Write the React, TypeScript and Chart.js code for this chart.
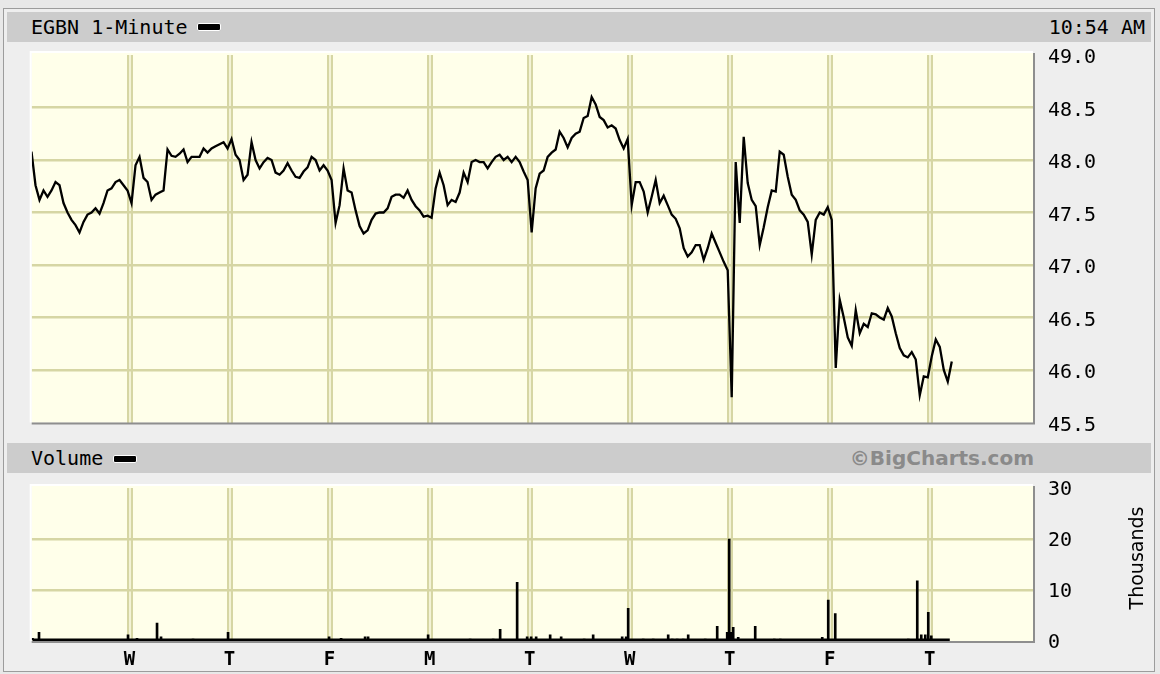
import React, { useEffect, useRef } from "react";
import { Chart, registerables } from "chart.js";

Chart.register(...registerables);

// ---------- data ----------
const dayLabels = ["W", "T", "F", "M", "T", "W", "T", "F", "T"];
const dayTicks = [1, 2, 3, 4, 5, 6, 7, 8, 9];
const priceTicks = [45.5, 46.0, 46.5, 47.0, 47.5, 48.0, 48.5, 49.0];
const volumeTicks = [0, 10, 20, 30];

// price samples per trading session, one sample every 0.04 of a session
const SAMPLE_STEP = 0.04;
const day0 = [48.08, 47.76, 47.62, 47.71, 47.65, 47.71, 47.79, 47.76, 47.59, 47.5, 47.43, 47.38, 47.31, 47.41, 47.48, 47.5, 47.54, 47.49, 47.59, 47.71, 47.73, 47.79, 47.81, 47.76, 47.71];
const day1 = [47.59, 47.95, 48.03, 47.83, 47.79, 47.62, 47.67, 47.69, 47.71, 48.1, 48.04, 48.03, 48.06, 48.1, 47.98, 48.03, 48.03, 48.03, 48.11, 48.07, 48.11, 48.13, 48.15, 48.17, 48.11];
const day2 = [48.2, 48.05, 48.0, 47.81, 47.86, 48.17, 48.0, 47.92, 47.98, 48.02, 48.0, 47.88, 47.86, 47.9, 47.97, 47.9, 47.84, 47.83, 47.89, 47.93, 48.03, 48.0, 47.9, 47.95, 47.9];
const day3 = [47.81, 47.4, 47.57, 47.92, 47.71, 47.69, 47.52, 47.37, 47.3, 47.33, 47.43, 47.49, 47.5, 47.5, 47.54, 47.65, 47.67, 47.67, 47.64, 47.71, 47.62, 47.56, 47.52, 47.46, 47.47];
const day4 = [47.45, 47.73, 47.88, 47.76, 47.57, 47.62, 47.6, 47.69, 47.88, 47.79, 47.98, 48.0, 47.98, 47.98, 47.92, 47.98, 48.03, 48.05, 48.0, 48.03, 47.98, 48.03, 47.98, 47.89, 47.81];
const day5 = [47.31, 47.73, 47.87, 47.9, 48.03, 48.07, 48.1, 48.27, 48.21, 48.12, 48.21, 48.25, 48.27, 48.4, 48.42, 48.6, 48.53, 48.41, 48.38, 48.31, 48.33, 48.3, 48.19, 48.11, 48.2];
const day6 = [47.57, 47.79, 47.79, 47.7, 47.5, 47.65, 47.81, 47.59, 47.66, 47.57, 47.48, 47.44, 47.35, 47.16, 47.08, 47.12, 47.19, 47.19, 47.05, 47.16, 47.3, 47.21, 47.12, 47.03, 46.95];
const day7 = [45.74, 47.98, 47.4, 48.22, 47.78, 47.62, 47.56, 47.19, 47.36, 47.55, 47.71, 47.7, 48.08, 48.05, 47.84, 47.67, 47.62, 47.52, 47.48, 47.41, 47.1, 47.43, 47.5, 47.48, 47.55];
const day8 = [47.43, 46.02, 46.67, 46.5, 46.31, 46.23, 46.57, 46.35, 46.44, 46.41, 46.54, 46.53, 46.5, 46.48, 46.59, 46.51, 46.35, 46.21, 46.14, 46.12, 46.17, 46.1, 45.76, 45.94, 45.93];
const day9 = [46.13, 46.29, 46.22, 46.0, 45.89, 46.08];
const sessions = [day0, day1, day2, day3, day4, day5, day6, day7, day8, day9];

// volume (thousands) at session positions
const volDay = [0.03, 0.095, 0.205, 0.985, 1.075, 1.275, 1.315, 1.635, 1.985, 2.995, 3.115, 3.355, 3.385, 3.985, 4.405, 4.635, 4.705, 4.875, 4.975, 5.015, 5.065, 5.205, 5.315, 5.545, 5.635, 5.925, 5.965, 5.985, 6.055, 6.135, 6.235, 6.385, 6.425, 6.475, 6.535, 6.585, 6.755, 6.875, 6.975, 6.995, 7.015, 7.035, 7.085, 7.255, 7.295, 7.445, 7.505, 7.795, 7.925, 7.985, 8.055, 8.405, 8.455, 8.785, 8.875, 8.915, 8.955, 8.985, 9.015, 9.085];
const volK = [0.5, 1.7, 0.3, 1.2, 0.5, 3.5, 0.8, 0.4, 1.7, 0.8, 0.5, 0.8, 0.8, 1.2, 0.4, 0.4, 2.3, 11.5, 0.8, 0.8, 0.8, 1.2, 0.8, 0.4, 1.2, 0.8, 0.8, 6.4, 0.3, 0.4, 0.4, 1.2, 0.4, 0.4, 0.4, 1.2, 0.4, 2.9, 1.7, 20.0, 1.7, 2.7, 0.7, 2.9, 0.3, 0.4, 0.4, 0.3, 0.7, 8.0, 5.4, 0.3, 0.3, 0.4, 11.8, 1.2, 1.2, 5.6, 1.0, 0.3];
// continuous trickle of small minute volumes forming the base line
const volFloorDay = [0.03, 9.2];
const volFloorK = [0.2, 0.2];

// ---------- styles ----------
const MONO = '"DejaVu Sans Mono", "Liberation Mono", monospace';
const SANS = '"DejaVu Sans", Verdana, sans-serif';
const CREAM = "#ffffea";
const GRID = "#d6d6a4";
const GRID_INNER = "#f3f3d6";
const X_MIN = 0.022;
const X_MAX = 10.032;
const AXIS_W = 127;

const plotFrame = {
  id: "plotFrame",
  beforeDraw(chart: any) {
    const { ctx, chartArea: a } = chart;
    ctx.save();
    ctx.fillStyle = CREAM;
    ctx.fillRect(a.left, a.top - 2, a.right - a.left, a.bottom - a.top + 2);
    ctx.restore();
  },
  afterDraw(chart: any) {
    const { ctx, chartArea: a } = chart;
    const t = a.top - 2;
    ctx.save();
    ctx.lineWidth = 2;
    ctx.strokeStyle = "#ffffff";
    ctx.beginPath();
    ctx.moveTo(a.left - 1, a.bottom);
    ctx.lineTo(a.left - 1, t - 1);
    ctx.lineTo(a.right, t - 1);
    ctx.stroke();
    ctx.strokeStyle = "#8e8e8e";
    ctx.beginPath();
    ctx.moveTo(a.left, a.bottom + 1);
    ctx.lineTo(a.right + 1, a.bottom + 1);
    ctx.lineTo(a.right + 1, t);
    ctx.stroke();
    ctx.restore();
  },
};

function setTicks(values: number[]) {
  return (scale: any) => {
    scale.ticks = values.map((v) => ({ value: v }));
  };
}

function xScales(showLabels: boolean) {
  return {
    x: {
      type: "linear",
      position: "bottom",
      min: X_MIN,
      max: X_MAX,
      offset: false,
      afterBuildTicks: setTicks(dayTicks),
      afterFit: (s: any) => {
        s.height = showLabels ? 30 : 0;
      },
      grid: { color: GRID, lineWidth: 6, drawTicks: false, offset: false, z: -3 },
      border: { display: false },
      ticks: {
        display: showLabels,
        padding: 8,
        color: "#000",
        maxRotation: 0,
        autoSkip: false,
        font: { family: MONO, size: 19, weight: "bold" },
        callback: (v: any) => {
          const i = dayTicks.indexOf(Number(v));
          return i >= 0 ? dayLabels[i] : "";
        },
      },
    },
    x2: {
      type: "linear",
      position: "bottom",
      min: X_MIN,
      max: X_MAX,
      offset: false,
      afterBuildTicks: setTicks(dayTicks),
      afterFit: (s: any) => {
        s.height = 0;
      },
      grid: { color: GRID_INNER, lineWidth: 2, drawTicks: false, offset: false, z: -2 },
      border: { display: false },
      ticks: { display: false },
    },
  };
}

function yScale(min: number, max: number, ticks: number[], fmt: (v: number) => string, shift: number) {
  return {
    type: "linear",
    position: "right",
    min,
    max,
    afterBuildTicks: setTicks(ticks),
    afterFit: (s: any) => {
      s.width = AXIS_W;
    },
    grid: {
      color: (c: any) =>
        c.tick && (c.tick.value === min || c.tick.value === max) ? "rgba(0,0,0,0)" : GRID,
      lineWidth: 2.5,
      drawTicks: false,
      z: -1,
    },
    border: { display: false },
    ticks: {
      padding: 15,
      labelOffset: shift,
      color: "#000",
      autoSkip: false,
      font: { family: MONO, size: 20 },
      callback: (v: any) => fmt(Number(v)),
    },
  };
}

export default function App() {
  const priceRef = useRef<HTMLCanvasElement>(null);
  const volRef = useRef<HTMLCanvasElement>(null);

  useEffect(() => {
    const pricePoints = sessions.flatMap((vals, d) =>
      vals.map((v, k) => ({ x: d + (k + 0.5) * SAMPLE_STEP, y: v }))
    );
    const volPoints = volDay.map((d, i) => ({ x: d, y: volK[i] }));
    const floorPoints = volFloorDay.map((d, i) => ({ x: d, y: volFloorK[i] }));

    const common = {
      responsive: false,
      maintainAspectRatio: false,
      animation: false,
      events: [],
      plugins: { legend: { display: false }, tooltip: { enabled: false } },
    };

    const pc = new Chart(priceRef.current as HTMLCanvasElement, {
      type: "line",
      data: {
        datasets: [
          {
            label: "EGBN",
            data: pricePoints,
            xAxisID: "x",
            yAxisID: "y",
            borderColor: "#000",
            borderWidth: 2.3,
            pointRadius: 0,
            tension: 0,
            fill: false,
          },
        ],
      },
      options: {
        ...common,
        layout: { padding: { left: 31.7, top: 55, right: 0, bottom: 251.5 } },
        scales: {
          ...xScales(false),
          y: yScale(45.5, 49.0, priceTicks, (v) => v.toFixed(1), 3),
        },
      } as any,
      plugins: [plotFrame],
    });

    const vc = new Chart(volRef.current as HTMLCanvasElement, {
      type: "line",
      data: {
        datasets: [
          {
            type: "bar",
            label: "Volume",
            data: volPoints,
            xAxisID: "x",
            yAxisID: "y",
            backgroundColor: "#000",
            borderWidth: 0,
            barThickness: 2,
            grouped: false,
          } as any,
          {
            type: "line",
            label: "Volume floor",
            data: floorPoints,
            xAxisID: "x",
            yAxisID: "y",
            borderColor: "#000",
            borderWidth: 3,
            pointRadius: 0,
            fill: false,
          },
        ],
      },
      options: {
        ...common,
        layout: { padding: { left: 31.7, top: 488, right: 0, bottom: 3 } },
        scales: {
          ...xScales(true),
          y: yScale(0, 30, volumeTicks, (v) => String(v), 2),
        },
      } as any,
      plugins: [plotFrame],
    });

    return () => {
      pc.destroy();
      vc.destroy();
    };
  }, []);

  const abs = (s: React.CSSProperties): React.CSSProperties => ({ position: "absolute", ...s });
  const dash = (left: number, top: number): React.CSSProperties =>
    abs({
      left,
      top,
      width: 22,
      height: 6,
      background: "#000",
      border: "1px solid #ffffff",
      borderRadius: 2,
    });

  return (
    <div
      style={{
        position: "fixed",
        left: 0,
        top: 0,
        width: 1160,
        height: 674,
        overflow: "hidden",
        background: "#e8e8e8",
        fontFamily: MONO,
        color: "#000",
      }}
    >
      <div
        style={abs({
          left: 3,
          top: 8,
          width: 1152,
          height: 664,
          boxSizing: "border-box",
          border: "1.5px solid #9c9c9c",
          background: "#eeeeee",
        })}
      />
      <div style={abs({ left: 7, top: 12, width: 1144, height: 30, background: "#cccccc" })} />
      <div style={abs({ left: 7, top: 443, width: 1144, height: 30, background: "#cccccc" })} />

      <div style={abs({ left: 31, top: 12, height: 30, lineHeight: "30px", fontSize: 20, whiteSpace: "pre" })}>
        EGBN 1-Minute
      </div>
      <div style={dash(197, 23)} />
      <div style={abs({ right: 15, top: 12, height: 30, lineHeight: "30px", fontSize: 20, whiteSpace: "pre" })}>
        10:54 AM
      </div>

      <div style={abs({ left: 31, top: 443, height: 30, lineHeight: "30px", fontSize: 20 })}>Volume</div>
      <div style={dash(113, 455)} />
      <div
        style={abs({
          right: 126,
          top: 443,
          height: 30,
          lineHeight: "30px",
          fontSize: 20,
          fontFamily: SANS,
          fontWeight: "bold",
          color: "#8a8a8a",
          whiteSpace: "pre",
        })}
      >
        ©BigCharts.com
      </div>

      <canvas ref={priceRef} width={1160} height={674} style={abs({ left: 0, top: 0, width: 1160, height: 674 })} />
      <canvas ref={volRef} width={1160} height={674} style={abs({ left: 0, top: 0, width: 1160, height: 674 })} />

      <div
        style={abs({
          left: 1136 - 70,
          top: 558 - 12,
          width: 140,
          height: 24,
          lineHeight: "24px",
          textAlign: "center",
          fontFamily: SANS,
          fontSize: 19,
          transform: "rotate(-90deg)",
          transformOrigin: "50% 50%",
          whiteSpace: "pre",
        })}
      >
        Thousands
      </div>
    </div>
  );
}
